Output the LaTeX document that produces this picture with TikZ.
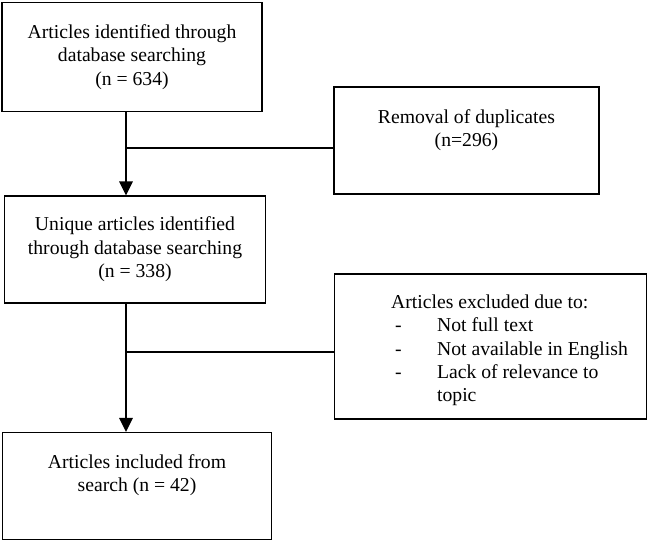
\documentclass[tikz,border=0pt]{standalone}
\usepackage{fontspec}
\setmainfont{Liberation Serif}
\usetikzlibrary{arrows.meta}
\tikzstyle{stage} = [rectangle, minimum width=5.22cm, minimum height=2.14cm,
  text centered, align=center, draw=black, line width=0.75pt]
\tikzstyle{removed} = [rectangle, minimum width=5.30cm, minimum height=2.14cm,
  text centered, align=center, draw=black, line width=0.75pt]
\tikzstyle{arrow} = [line width=1pt, -{Triangle[length=0.28cm, width=0.27cm]}]
\tikzstyle{branch} = [line width=0.6pt]

\begin{document}
\begin{tikzpicture}[node distance=2cm, font=\fontsize{11.2pt}{13.3pt}\selectfont]

  \useasboundingbox (-2.64,1.14) rectangle (10.36,-9.68);

  %% Main column
  \node (ident) [stage, minimum width=5.20cm, minimum height=2.17cm] {Articles identified through\\database searching\\(n = 634)};
  \node (unique) [stage, below of=ident, xshift=0.06cm, yshift=-1.85cm] {Unique articles identified\\through database searching\\(n = 338)};
  \node (incl) [stage, below of=unique, minimum width=5.37cm, xshift=0.04cm, yshift=-2.73cm] {Articles included from\\search (n = 42)\\[1.5pt]\mbox{}};

  %% Side boxes
  \node (dup) [removed, right of=ident, xshift=4.69cm, yshift=-1.67cm] {Removal of duplicates\\(n=296)\\[1pt]\mbox{}};
  \node (excl) [removed, below of=dup, minimum width=6.25cm, minimum height=2.90cm, xshift=0.48cm, yshift=-2.12cm, align=left] {\hspace*{0.76cm}\begin{tabular}{@{\hspace{0.08cm}}p{0.84cm}@{}l@{}}
    \multicolumn{2}{@{}l@{}}{\rule{0pt}{13.9pt}Articles excluded due to:}\\
    - & Not full text\\
    - & Not available in English\\
    - & Lack of relevance to\\
      & topic
  \end{tabular}};

  %% Arrows down the left side
  \coordinate (spine) at ([xshift=-0.12cm]ident.south);
  \draw [arrow] (spine) -- (spine |- unique.north);
  \draw [arrow] (spine |- unique.south) -- (spine |- incl.north);

  %% Side branches
  \draw [branch] ([yshift=-0.15cm]dup.west) -- ([yshift=-0.15cm]dup.west -| spine);
  \draw [branch] ([yshift=-0.11cm]excl.west) -- ([yshift=-0.11cm]excl.west -| spine);

\end{tikzpicture}
\end{document}
